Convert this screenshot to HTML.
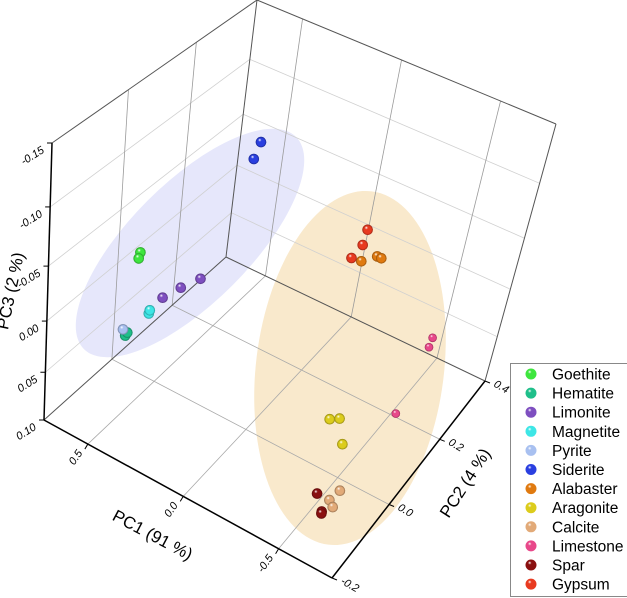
<!DOCTYPE html>
<html><head><meta charset="utf-8">
<style>
html,body{margin:0;padding:0;background:#fff;}
svg{display:block;font-family:"Liberation Sans",sans-serif;}
</style></head>
<body>
<svg id="chart" width="627" height="598" viewBox="0 0 627 598" xmlns="http://www.w3.org/2000/svg">
<defs id="defs"></defs>
<g id="ellipses">
<ellipse cx="190" cy="243" rx="150" ry="60" transform="rotate(-45 190 243)" fill="#e6e7fb"/>
<ellipse cx="350" cy="368" rx="178" ry="94" transform="rotate(-83 350 368)" fill="#f9e9cc"/>
</g>
<g id="grid"></g>
<g id="axes"></g>
<g id="points"></g>
<text x="150" y="540" font-size="17" text-anchor="middle" transform="rotate(28 150 540)">PC1 (91 %)</text>
<text x="470" y="486" font-size="17" text-anchor="middle" transform="rotate(-57 470 486)">PC2 (4 %)</text>
<text x="16" y="292" font-size="17" text-anchor="middle" transform="rotate(-78 16 292)">PC3 (2 %)</text>
<g id="legend">
<rect x="510.5" y="363.5" width="120" height="233" fill="#fff" stroke="#888" stroke-width="1"/>
</g>
</svg>
<script>
// ---- data ----
const groups = ["Goethite","Hematite","Limonite","Magnetite","Pyrite","Siderite","Alabaster","Aragonite","Calcite","Limestone","Spar","Gypsum"];
const colors = ["#3ee63e","#1fbf8a","#7e4fc0","#3de6e6","#a8c0f0","#2a3fe0","#e07a10","#dccc1c","#e2aa78","#e8488a","#8a1010","#e83a20"];
const goethitePC1=[0.557,0.563], goethitePC2=[-0.041,-0.041], goethitePC3=[-0.036,-0.030];
const hematitePC1=[0.604,0.594], hematitePC2=[-0.041,-0.041], hematitePC3=[0.049,0.045];
const limonitePC1=[0.431,0.346,0.255], limonitePC2=[-0.041,-0.041,-0.041], limonitePC3=[-0.005,-0.022,-0.038];
const magnetitePC1=[0.493,0.489], magnetitePC2=[-0.041,-0.041], magnetitePC3=[0.016,0.0125];
const pyritePC1=[0.617], pyritePC2=[-0.041], pyritePC3=[0.044];
const sideritePC1=[0.285,0.309], sideritePC2=[0.135,0.135], sideritePC3=[-0.113,-0.097];
const alabasterPC1=[-0.276,-0.347,-0.368], alabasterPC2=[0.135,0.135,0.135], alabasterPC3=[-0.053,-0.063,-0.063];
const aragonitePC1=[-0.457,-0.504,-0.539], aragonitePC2=[-0.041,-0.041,-0.041], aragonitePC3=[0.030,0.025,0.047];
const calcitePC1=[-0.628,-0.585,-0.607], calcitePC2=[-0.096,-0.096,-0.096], calcitePC3=[0.066,0.080,0.085];
const limestonePC1=[-0.630,-0.623,-0.531], limestonePC2=[0.197,0.197,0.197], limestonePC3=[0.006,0.016,0.095];
const sparPC1=[-0.520,-0.557,-0.557], sparPC2=[-0.096,-0.096,-0.096], sparPC3=[0.080,0.095,0.097];
const gypsumPC1=[-0.279,-0.269,-0.227], gypsumPC2=[0.135,0.135,0.135], gypsumPC3=[-0.081,-0.067,-0.052];
const pc1Ticks=[0.5,0.0,-0.5], pc1Labels=["0.5","0.0","-0.5"];
const pc2Ticks=[-0.2,0.0,0.2,0.4], pc2Labels=["-0.2","0.0","0.2","0.4"];
const pc3Ticks=[-0.15,-0.10,-0.05,0.00,0.05,0.10], pc3Labels=["-0.15","-0.10","-0.05","0.00","0.05","0.10"];

const seriesPC1=[goethitePC1,hematitePC1,limonitePC1,magnetitePC1,pyritePC1,sideritePC1,alabasterPC1,aragonitePC1,calcitePC1,limestonePC1,sparPC1,gypsumPC1];
const seriesPC2=[goethitePC2,hematitePC2,limonitePC2,magnetitePC2,pyritePC2,sideritePC2,alabasterPC2,aragonitePC2,calcitePC2,limestonePC2,sparPC2,gypsumPC2];
const seriesPC3=[goethitePC3,hematitePC3,limonitePC3,magnetitePC3,pyritePC3,sideritePC3,alabasterPC3,aragonitePC3,calcitePC3,limestonePC3,sparPC3,gypsumPC3];

// ---- projection ----
const PC1MAX=0.73, PC1MIN=-0.78, PC2MIN=-0.2, PC2MAX=0.4, PC3TOP=-0.15, PC3BOT=0.10;
const C={ "000":[44,420],"100":[332,578],"110":[485,381],"010":[226,257],
          "001":[52,143],"101":[381,288],"111":[556,124],"011":[257,0] };
function uOf(p){return (PC1MAX-p)/(PC1MAX-PC1MIN);}
function vOf(p){const s=(p-PC2MIN)/(PC2MAX-PC2MIN);return s*1.19/(1+0.19*s);}
function wOf(p){const s=(p-PC3TOP)/(PC3BOT-PC3TOP);return 1-s*1.2/(1+0.2*s);}
function tri(u,v,w){
  let x=0,y=0;
  for(const k in C){const a=+k[0],b=+k[1],c=+k[2];
    const f=(a?u:1-u)*(b?v:1-v)*(c?w:1-w);x+=f*C[k][0];y+=f*C[k][1];}
  return [x,y];
}
function proj(p1,p2,p3){return tri(uOf(p1),vOf(p2),wOf(p3));}

const NS="http://www.w3.org/2000/svg";
function mk(tag,attrs,parent){const e=document.createElementNS(NS,tag);for(const k in attrs)e.setAttribute(k,attrs[k]);parent.appendChild(e);return e;}
function line(p,q,stroke,sw,parent,name){
  const e=mk("line",{x1:p[0],y1:p[1],x2:q[0],y2:q[1],stroke:stroke,"stroke-width":sw},parent);
  
  
  return e;
}
const grid=document.getElementById("grid"), axes=document.getElementById("axes");

pc3Ticks.slice(1,-1).forEach(z=>{
  line(tri(0,0,wOf(z)),tri(0,1,wOf(z)),"#d0d0d0",0.8,grid,"left-wall-gridline");
  line(tri(0,1,wOf(z)),tri(1,1,wOf(z)),"#d0d0d0",0.8,grid,"back-wall-gridline");
});
pc2Ticks.slice(1,-1).forEach(t=>{
  line(tri(0,vOf(t),0),tri(0,vOf(t),1),"#9a9a9a",0.8,grid,"left-wall-vertical-gridline");
  line(tri(0,vOf(t),0),tri(1,vOf(t),0),"#a8a8a8",0.8,grid,"floor-gridline-pc2");
});
pc1Ticks.forEach(t=>{
  line(tri(uOf(t),1,0),tri(uOf(t),1,1),"#9a9a9a",0.8,grid,"back-wall-vertical-gridline");
  line(tri(uOf(t),0,0),tri(uOf(t),1,0),"#a8a8a8",0.8,grid,"floor-gridline-pc1");
});
line(C["000"],C["010"],"#555",1,grid,"floor-left-edge");
line(C["010"],C["110"],"#555",1,grid,"floor-back-edge");
line(C["010"],C["011"],"#555",1,grid,"back-corner-edge");
line(C["001"],C["011"],"#555",1,grid,"left-top-edge");
line(C["011"],C["111"],"#555",1,grid,"back-top-edge");
line(C["110"],C["111"],"#555",1,grid,"right-back-edge");
line(C["000"],C["001"],"#000",1.5,axes,"z-axis-line");
line(C["000"],C["100"],"#000",1.5,axes,"x-axis-line");
line(C["100"],C["110"],"#000",1.5,axes,"y-axis-line");
function txt(s,x,y,rot,size,anchor,name,parent){
  const e=mk("text",{x:x,y:y,"font-size":size,"text-anchor":anchor,"font-style":"italic",transform:`rotate(${rot} ${x} ${y})`},parent);
  e.textContent=s;
  
  
}
pc3Ticks.forEach((t,i)=>{
  const p=tri(0,0,wOf(t));
  line(p,[p[0]-5,p[1]],"#000",1,axes,"z-tick");
  txt(pc3Labels[i],p[0]-7,p[1]+9,-32,11,"end","z-tick-label",axes);
});
pc1Ticks.forEach((t,i)=>{
  const p=tri(uOf(t),0,0);
  line(p,[p[0]-3,p[1]+5],"#000",1,axes,"x-tick");
  txt(pc1Labels[i],p[0]-5,p[1]+9,-55,11,"end","x-tick-label",axes);
});
pc2Ticks.forEach((t,i)=>{
  const p=tri(1,vOf(t),0);
  line(p,[p[0]+5,p[1]+2],"#000",1,axes,"y-tick");
  txt(pc2Labels[i],p[0]+8,p[1]+5,30,11,"start","y-tick-label",axes);
});

const defs=document.getElementById("defs");
colors.forEach((c,i)=>{
  const g=mk("radialGradient",{id:"g"+i,cx:"0.4",cy:"0.35",r:"0.65",fx:"0.38",fy:"0.3"},defs);
  mk("stop",{offset:"0","stop-color":"#ffffff"},g);
  mk("stop",{offset:"0.25","stop-color":c},g);
  mk("stop",{offset:"1","stop-color":c,"stop-opacity":"1"},g);
  const g2=mk("radialGradient",{id:"s"+i,cx:"0.5",cy:"0.5",r:"0.5"},defs);
  mk("stop",{offset:"0.7","stop-color":"#000","stop-opacity":"0"},g2);
  mk("stop",{offset:"1","stop-color":"#000","stop-opacity":"0.35"},g2);
});
const pts=document.getElementById("points");
groups.forEach((name,i)=>{
  const r = name==="Limestone"?4.3:5.3;
  seriesPC1[i].forEach((v,j)=>{
    const p=proj(v,seriesPC2[i][j],seriesPC3[i][j]);
    const c=mk("circle",{cx:p[0].toFixed(1),cy:p[1].toFixed(1),r:r,fill:`url(#g${i})`},pts);
    
    
    const s=mk("circle",{cx:p[0].toFixed(1),cy:p[1].toFixed(1),r:r,fill:`url(#s${i})`},pts);
    
    
  });
});
const lg=document.getElementById("legend");
groups.forEach((name,i)=>{
  const y=374+i*19.1;
  const c=mk("circle",{cx:531,cy:y,r:5.5,fill:`url(#g${i})`},lg);
  
  
  const t=mk("text",{x:552,y:y+5.5,"font-size":15.5},lg);
  t.textContent=name;
  
  
});
</script>
</body></html>
